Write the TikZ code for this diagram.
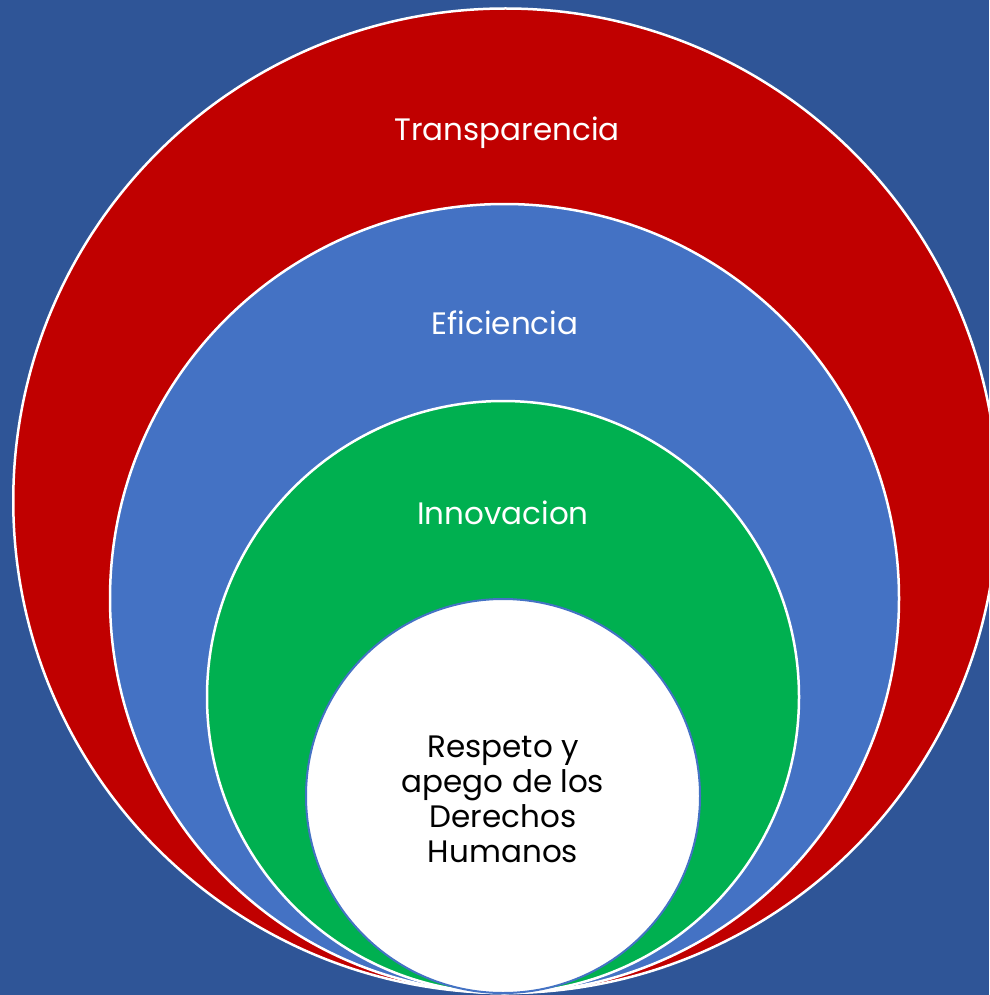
\documentclass[tikz,border=0pt]{standalone}
\usepackage{fontspec}
\setmainfont{Poppins}
\definecolor{bgblue}{HTML}{2F5597}
\definecolor{ringred}{HTML}{C00000}
\definecolor{ringblue}{HTML}{4472C4}
\definecolor{ringgreen}{HTML}{00B050}
\tikzset{
  ring/.style={circle, draw=white, line width=2.5pt, inner sep=0pt},
  lbl/.style={font=\fontsize{31}{35}\selectfont, text=white, align=center},
}
\begin{document}
\begin{tikzpicture}[x=1pt,y=-1pt]
\fill[bgblue] (0,0) rectangle (989,995);
\useasboundingbox (0,0) rectangle (989,995);
\begin{scope}
\clip (0,0) rectangle (989,995);
\node[ring, fill=ringred, minimum size=984.5pt] (red) at (505.5,500.75) {};
\node[ring, fill=ringblue, minimum size=789pt] (blue) at (504.5,598.5) {};
\node[ring, fill=ringgreen, minimum size=592pt] (green) at (503,697) {};
\node[circle, draw=ringblue, line width=2pt, fill=white, inner sep=0pt, minimum size=394pt] (core) at (503,796) {};
\end{scope}
\node[lbl] (t1) at (507,133) {Transparencia};
\node[lbl] (t2) at (505,323) {Eficiencia};
\node[lbl] (t3) at (503,513) {Innovacion};
\node[lbl, text=black] (t4) at (503,799) {Respeto y\\apego de los\\Derechos\\Humanos};
\end{tikzpicture}
\end{document}
